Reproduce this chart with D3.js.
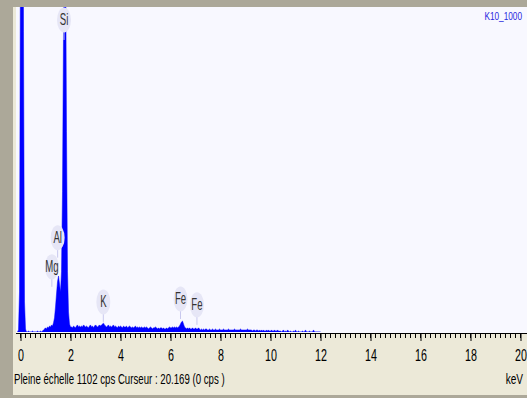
<!DOCTYPE html>
<html>
<head>
<meta charset="utf-8">
<script src="https://cdn.jsdelivr.net/npm/d3@7"></script>
<style>
  html, body { margin: 0; padding: 0; background: #aca899; }
  svg { display: block; }
  text { font-family: "Liberation Sans", Arial, sans-serif; }
</style>
</head>
<body>
<svg id="chart" width="527" height="398"></svg>
<script>
// EDS spectrum, channel counts (cps), 0.04 keV per channel, first channel at -0.12 keV
const channelStart = -0.12;
const channelWidth = 0.04;
const counts = [
  0, 7, 136, 1360, 3400, 3400, 1020, 102, 10,
  0, 0, 3, 0, 0, 0, 3, 0, 0, 0, 0, 3, 0, 0, 3, 0, 3,
  7, 10, 14, 10, 17, 14, 20, 17, 24, 20, 31, 48,
  85, 129, 170, 190, 163, 136, 204, 476, 1020, 1360, 1360, 680, 204, 68, 27, 17,
  17, 14, 20, 17, 14, 20, 24, 17, 20, 17,
  20, 17, 24, 20, 17, 20, 17, 14, 20, 24,
  17, 20, 14, 20, 24, 20, 17, 20, 24, 20,
  24, 27, 30, 24, 20, 17, 20, 24, 17, 20,
  17, 20, 24, 17, 20, 17, 14, 20, 17, 20,
  17, 14, 20, 17, 17, 20, 14, 17, 20, 17,
  14, 17, 14, 17, 20, 14, 17, 14, 17, 14,
  17, 14, 14, 17, 14, 17, 14, 10, 14, 17,
  14, 10, 14, 14, 17, 14, 10, 14, 10, 14,
  14, 10, 14, 10, 10, 14, 10, 14, 17, 14,
  14, 17, 14, 17, 14, 17, 14, 17, 20, 27,
  34, 37, 27, 17, 14, 10, 14, 10, 14, 10,
  10, 14, 10, 10, 14, 10, 10, 14, 10, 7,
  10, 7, 10, 7, 10, 10, 7, 7, 10, 7,
  7, 10, 7, 7, 10, 7, 7, 7, 10, 7,
  7, 7, 10, 7, 7, 7, 7, 10, 7, 7,
  7, 7, 7, 10, 7, 7, 7, 7, 7, 10,
  7, 7, 7, 7, 7, 7, 10, 7, 7, 7,
  7, 3, 7, 7, 3, 7, 7, 3, 7, 3,
  7, 3, 7, 3, 3, 7, 3, 7, 3, 3,
  7, 3, 3, 7, 3, 3, 7, 3, 3, 3,
  0, 3, 7, 0, 3, 0, 7, 3, 0, 3,
  0, 0, 3, 0, 7, 0, 0, 3, 0, 0,
  0, 3, 0, 0, 7, 0, 0, 0, 3, 0,
  0, 0, 7, 0, 0, 0, 0, 0, 0, 0
];

// identified lines: element, line energy (keV), label anchor level (cps)
const peakNames = ["Si", "Al", "Mg", "K", "Fe", "Fe"];
const peakEnergies = [1.740, 1.486, 1.254, 3.313, 6.400, 7.058];
const labelCps = [1058, 320, 221, 102, 112, 92];

const xTickValues = [0, 2, 4, 6, 8, 10, 12, 14, 16, 18, 20];
const fullScale = 1102;
const sampleName = "K10_1000";
const statusText = "Pleine échelle 1102 cps  Curseur : 20.169  (0 cps )";
const unitText = "keV";

const W = 527, H = 398;
const plot = { left: 16, top: 7, right: 527, bottom: 333 };
const baseline = 332;

const svg = d3.select("#chart");

// window frame and panels
svg.append("rect").attr("width", W).attr("height", H).attr("fill", "#aca899");
svg.append("rect").attr("x", 13).attr("y", 7).attr("width", W - 13).attr("height", 388).attr("fill", "#ece9d8");
svg.append("rect").attr("x", plot.left).attr("y", plot.top)
  .attr("width", plot.right - plot.left).attr("height", plot.bottom - plot.top)
  .attr("fill", "#f8f8ff");

const x = d3.scaleLinear().domain([0, 20]).range([20.5, 520.5]);
const y = d3.scaleLinear().domain([0, fullScale]).range([baseline, plot.top]);

svg.append("clipPath").attr("id", "plotClip")
  .append("rect").attr("x", plot.left).attr("y", plot.top)
  .attr("width", plot.right - plot.left).attr("height", baseline - plot.top);

// spectrum
const channels = counts.map((c, i) => ({ e: channelStart + i * channelWidth, c }));
const area = d3.area()
  .x(d => x(d.e))
  .y0(y(0))
  .y1(d => y(d.c));

svg.append("path")
  .datum(channels)
  .attr("clip-path", "url(#plotClip)")
  .attr("fill", "#0000ff")
  .attr("stroke", "#0000ff")
  .attr("stroke-width", 0.5)
  .attr("d", area);

// peak labels
const labels = svg.append("g");
peakNames.forEach((name, i) => {
  const cx = x(peakEnergies[i]);
  const cy = y(labelCps[i]);
  const g = labels.append("g");
  g.append("line")
    .attr("x1", cx).attr("x2", cx)
    .attr("y1", cy + 12).attr("y2", cy + 20)
    .attr("stroke", "#c8c8ee").attr("stroke-width", 1);
  g.append("ellipse")
    .attr("cx", cx).attr("cy", cy)
    .attr("rx", 7).attr("ry", 12.5)
    .attr("fill", "#e6e6f6");
  g.append("text")
    .attr("transform", `translate(${cx},${cy + 5.5}) scale(0.6,1)`)
    .attr("text-anchor", "middle")
    .attr("font-size", 16)
    .attr("fill", "#333")
    .text(name);
});

// x axis
const axis = d3.axisBottom(x)
  .tickValues(xTickValues)
  .tickSize(8)
  .tickFormat(d3.format("d"));

const axisG = svg.append("g")
  .attr("transform", `translate(0,${plot.bottom})`)
  .call(axis);
axisG.select(".domain").remove();
axisG.selectAll(".tick line").attr("stroke", "#000");
axisG.selectAll(".tick text")
  .attr("y", 0).attr("dy", null)
  .attr("transform", "translate(0,28) scale(0.65,1)")
  .attr("font-size", 16.5)
  .attr("font-family", "'Liberation Sans', Arial, sans-serif")
  .attr("fill", "#000");

// minor ticks every 0.2 keV
const minor = d3.range(0, 101).map(k => k * 0.2);
svg.append("g").selectAll("line")
  .data(minor)
  .join("line")
  .attr("x1", d => x(d)).attr("x2", d => x(d))
  .attr("y1", plot.bottom).attr("y2", plot.bottom + 5)
  .attr("stroke", "#000").attr("stroke-width", 1);

svg.append("line")
  .attr("x1", plot.left).attr("x2", plot.right)
  .attr("y1", plot.bottom + 0.5).attr("y2", plot.bottom + 0.5)
  .attr("stroke", "#000").attr("stroke-width", 1);

// sample name (condensed, right-aligned)
svg.append("text")
  .attr("transform", "translate(522,20) scale(0.75,1)")
  .attr("text-anchor", "end")
  .attr("font-size", 11)
  .attr("fill", "#2828e0")
  .text(sampleName);

// status line
svg.append("text")
  .attr("transform", "translate(14,384) scale(0.69,1)")
  .attr("font-size", 14)
  .attr("fill", "#000")
  .text(statusText);

svg.append("text")
  .attr("transform", "translate(523,384) scale(0.72,1)")
  .attr("text-anchor", "end")
  .attr("font-size", 14)
  .attr("fill", "#000")
  .text(unitText);
</script>
</body>
</html>
